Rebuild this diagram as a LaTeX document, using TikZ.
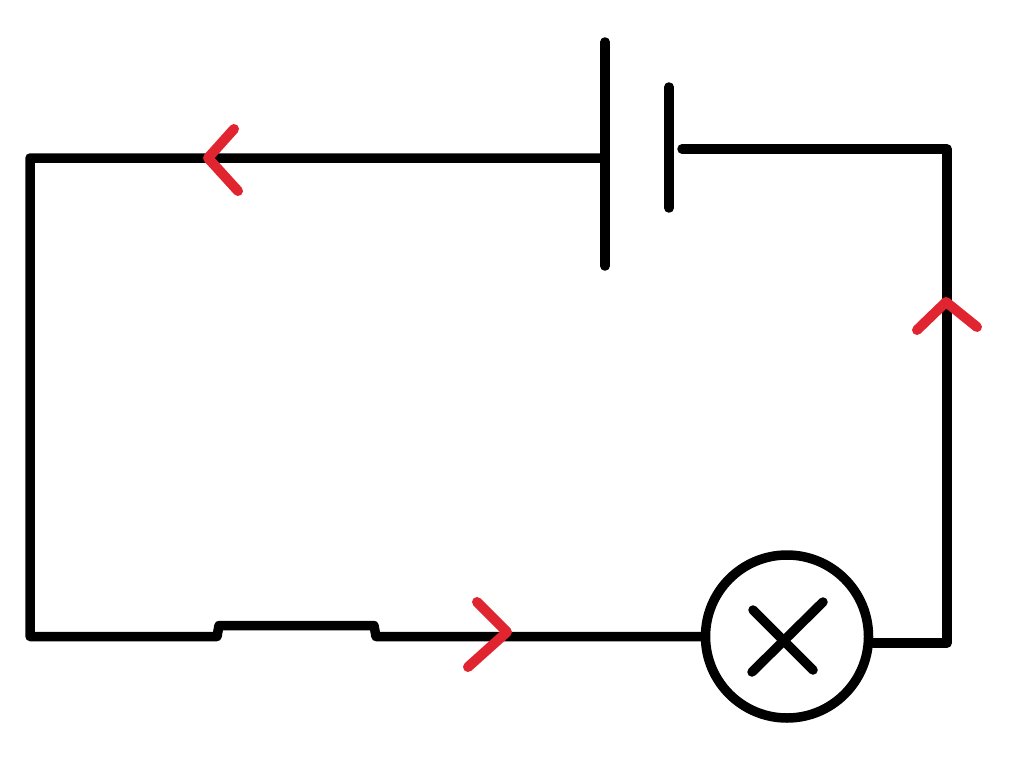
\documentclass[tikz,border=0pt]{standalone}
\begin{document}
\begin{tikzpicture}[x=1pt,y=-1pt,
  wire/.style={line width=9.5pt,black,line cap=round,line join=round},
  arrowmark/.style={line width=10pt,draw=arrowred,line cap=round,line join=round}]
\definecolor{arrowred}{RGB}{224,36,48}
\useasboundingbox (0,0) rectangle (1024,765);
\coordinate (tl) at (30,158);
\coordinate (bl) at (30,636.5);
\coordinate (batL) at (600,158);
\coordinate (batR) at (682,149);
\coordinate (tr) at (947,149);
\coordinate (br) at (947,643);
\coordinate (swA) at (217,636.5);
\coordinate (swB) at (219,625.5);
\coordinate (swC) at (374,625.5);
\coordinate (swD) at (376,636.5);
\node[circle,draw=black,line width=9.5pt,minimum size=163pt,inner sep=0pt] (lamp) at (787,636.5) {};
\draw[wire] (batL) -- (tl) -- (bl) -- (swA) -- (swB) -- (swC) -- (swD) -- (lamp.west);
\draw[wire] (lamp.east |- br) -- (br) -- (tr) -- (batR);
\coordinate (p1a) at (605,42);\coordinate (p1b) at (605,266);
\coordinate (p2a) at (669,87);\coordinate (p2b) at (669,208);
\draw[wire] (p1a) -- (p1b);
\draw[wire] (p2a) -- (p2b);
\coordinate (xa) at (752,672);\coordinate (xb) at (823,602);
\coordinate (xc) at (753,610);\coordinate (xd) at (813,670);
\draw[wire] (xa) -- (xb);
\draw[wire] (xc) -- (xd);
\coordinate (a1) at (234,129);\coordinate (a2) at (208,158);\coordinate (a3) at (238,191);
\draw[arrowmark] (a1) -- (a2) -- (a3);
\coordinate (b1) at (917,330);\coordinate (b2) at (946,302);\coordinate (b3) at (977,327);
\draw[arrowmark] (b1) -- (b2) -- (b3);
\coordinate (c1) at (477,602);\coordinate (c2) at (507,632);\coordinate (c3) at (468,667);
\draw[arrowmark] (c1) -- (c2) -- (c3);
\end{tikzpicture}
\end{document}
